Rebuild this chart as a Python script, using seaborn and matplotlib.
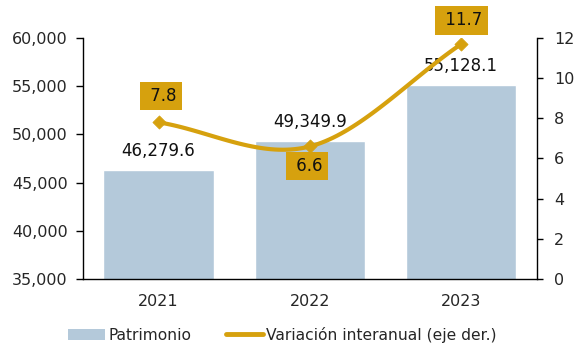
import numpy as np
import pandas as pd
import matplotlib
matplotlib.use("Agg")
import matplotlib.pyplot as plt
from matplotlib.lines import Line2D
from matplotlib.patches import Patch
import seaborn as sns

years = ["2021", "2022", "2023"]
patrimonio = [46279.6, 49349.9, 55128.1]
variacion = [7.8, 6.6, 11.7]

BAR_COLOR = "#B4C9DA"
GOLD = "#D6A10E"
TICK_FS = 11.5
LABEL_FS = 12

sns.set_theme(style="white")
plt.rcParams["font.family"] = ["DejaVu Sans"]
plt.rcParams["font.size"] = 11

df = pd.DataFrame({"year": years, "patrimonio": patrimonio, "variacion": variacion})

fig = plt.figure(figsize=(5.76, 3.43), dpi=100)
ax = fig.add_axes([0.144, 0.187, 0.788, 0.702])

sns.barplot(data=df, x="year", y="patrimonio", color=BAR_COLOR, width=0.73,
            saturation=1, ax=ax, zorder=2)
ax.set_ylim(35000, 60000)
ax.set_yticks(np.arange(35000, 60001, 5000))
ax.yaxis.set_major_formatter(matplotlib.ticker.FuncFormatter(lambda v, p: f"{v:,.0f}"))
ax.set_xlim(-0.5, 2.5)
ax.set_xlabel("")
ax.set_ylabel("")

# category separators as ticks on the x axis
ax.set_xticks([0, 1, 2])
ax.set_xticks([-0.5, 0.5, 1.5, 2.5], minor=True)
ax.tick_params(axis="x", which="major", length=0, pad=11, labelsize=TICK_FS)
ax.tick_params(axis="x", which="minor", length=5, width=1, color="black", direction="out")
ax.tick_params(axis="y", length=5, width=1, color="black", direction="out",
               labelsize=TICK_FS, left=True, pad=6)

for s in ["top", "right"]:
    ax.spines[s].set_visible(False)
for s in ["left", "bottom"]:
    ax.spines[s].set_color("black")
    ax.spines[s].set_linewidth(1)

# bar value labels
for i, v in enumerate(patrimonio):
    ax.annotate(f"{v:,.1f}", (i, v), xytext=(0, 7), textcoords="offset points",
                ha="center", va="bottom", fontsize=LABEL_FS, color="#111111")

# secondary axis with smoothed growth line
ax2 = ax.twinx()
ax2.set_ylim(0, 12)
ax2.set_yticks(np.arange(0, 13, 2))
ax2.tick_params(axis="y", length=4, width=1, color="black", direction="out",
                labelsize=TICK_FS, right=True, pad=8.5)
for s in ["top", "left", "bottom"]:
    ax2.spines[s].set_visible(False)
ax2.spines["right"].set_color("black")
ax2.spines["right"].set_linewidth(1)
ax2.grid(False)
ax.grid(False)

def catmull_rom(xs, ys, n=40):
    xs = np.asarray(xs, float)
    ys = np.asarray(ys, float)
    px = np.concatenate([[2 * xs[0] - xs[1]], xs, [2 * xs[-1] - xs[-2]]])
    py = np.concatenate([[2 * ys[0] - ys[1]], ys, [2 * ys[-1] - ys[-2]]])
    out_x, out_y = [], []
    for k in range(1, len(px) - 2):
        t = np.linspace(0, 1, n)
        p0, p1, p2, p3 = (np.array([px[k + j], py[k + j]]) for j in (-1, 0, 1, 2))
        m1 = (p2 - p0) / 2
        m2 = (p3 - p1) / 2
        h00 = 2 * t**3 - 3 * t**2 + 1
        h10 = t**3 - 2 * t**2 + t
        h01 = -2 * t**3 + 3 * t**2
        h11 = t**3 - t**2
        pts = np.outer(h00, p1) + np.outer(h10, m1) + np.outer(h01, p2) + np.outer(h11, m2)
        out_x.extend(pts[:, 0])
        out_y.extend(pts[:, 1])
    return np.array(out_x), np.array(out_y)

xpos = np.arange(len(years))
sx, sy = catmull_rom(xpos, variacion)
ax2.plot(sx, sy, color=GOLD, lw=3.0, solid_capstyle="round", zorder=3)
sns.scatterplot(x=xpos, y=variacion, ax=ax2, marker="D", s=45, color=GOLD,
                edgecolor=GOLD, zorder=4, legend=False)

# growth value tags (offsets in points from each data point)
offsets = [(1.5, 19), (-2, -14), (0, 17)]
for i, (v, off) in enumerate(zip(variacion, offsets)):
    ax2.annotate(f" {v:.1f}", (i, v), xytext=off, textcoords="offset points",
                 ha="center", va="center", fontsize=LABEL_FS, color="#111111",
                 bbox=dict(boxstyle="square,pad=0.32", fc=GOLD, ec="none"))

handles = [Patch(facecolor=BAR_COLOR, edgecolor="none", label="Patrimonio"),
           Line2D([0], [0], color=GOLD, lw=3.5, label="Variación interanual (eje der.)")]
fig.legend(handles=handles, loc="lower center", bbox_to_anchor=(0.49, -0.04), ncol=2,
           frameon=False, fontsize=11.2, handlelength=2.4, handletextpad=0.2,
           columnspacing=2.2)

fig.savefig("out.png", dpi=100)
